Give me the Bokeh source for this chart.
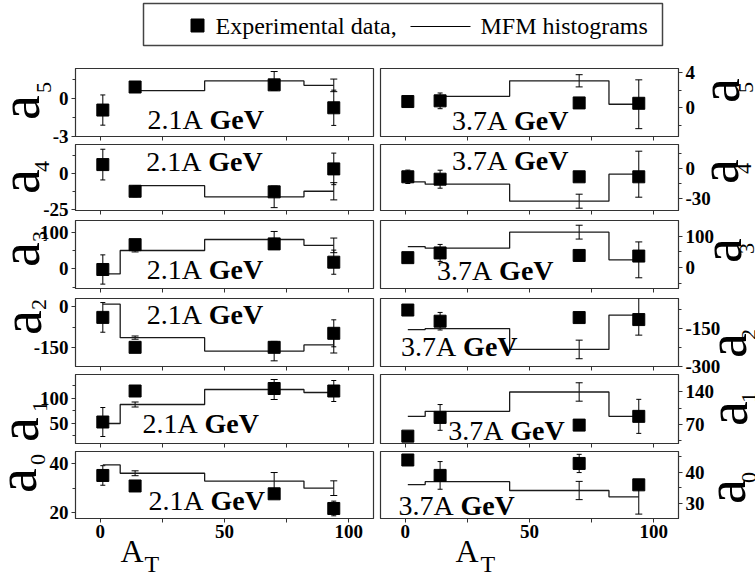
import math
from bokeh.plotting import figure
from bokeh.models import (Range1d, FixedTicker, Label, Whisker, ColumnDataSource,
                          TeeHead, GridBox)
from bokeh.layouts import column, row
from bokeh.embed import file_html
from bokeh.resources import INLINE
from bokeh.core.properties import value

nan = float("nan")

# ---------------- data ----------------
A_T = [1, 14, 70, 94]                 # target mass numbers of the experimental points
bins_full = [1, 8, 42, 82, 94]        # MFM histogram bin edges
bins_from14 = [14, 42, 82, 94]        # histogram drawn only from A_T = 14

# 2.1A GeV : experimental values / errors, MFM histogram values / errors
exp21_a5 = [-0.9, 0.93, 1.1, -0.72];   err21_a5 = [1.2, 0.15, 0.2, 1.4]
mfm21_a5 = [0.64, 1.41, 1.06];         mfmerr21_a5 = [nan, nan, 0.75, 0.5]
exp21_a4 = [6, -12.6, -13, 3];         err21_a4 = [10.7, 3.8, 2, 11]
mfm21_a4 = [-8.7, -16.5, -12.6];       mfmerr21_a4 = [nan, nan, 7.5, 6]
exp21_a3 = [-2, 66, 68, 18];           err21_a3 = [40, 12, 15, 33]
mfm21_a3 = [-14, 50, 80, 64];          mfmerr21_a3 = [nan, 4, 22, 20]
exp21_a2 = [-39, -150, -150, -98];     err21_a2 = [55, 6, 6, 50]
mfm21_a2 = [10, -114, -164, -141];     mfmerr21_a2 = [nan, 6, 36, 30]
exp21_a1 = [52, 114, 119, 114];        err21_a1 = [29, 11, 10, 21]
mfm21_a1 = [49, 87, 117, 111];         mfmerr21_a1 = [nan, 5, 20, nan]
exp21_a0 = [35.3, 31, 27.8, 21.8];     err21_a0 = [4, 1.8, 1.3, 3]
mfm21_a0 = [39.6, 36.2, 33, 30.1];     mfmerr21_a0 = [nan, 1, 3.5, 3]

# 3.7A GeV
exp37_a5 = [0.71, 0.79, 0.55, 0.51];   err37_a5 = [0.15, 0.9, 0.1, 0.15]
mfm37_a5 = [1.31, 3.09, 0.4];          mfmerr37_a5 = [nan, nan, 0.7, 2.8]
exp37_a4 = [-8.3, -10.7, -8.3, -8.3];  err37_a4 = [6.7, 9, 0, 0]
mfm37_a4 = [-13.3, -15.7, -32.7, -5.7]; mfmerr37_a4 = [nan, nan, 7, 23]
exp37_a3 = [32, 47, 39, 37];           err37_a3 = [0, 27, 0, 0]
mfm37_a3 = [67, 62, 113, 25];          mfmerr37_a3 = [nan, nan, 22, 57]
exp37_a2 = [-76, -120.5, -106, -114];  err37_a2 = [0, 35, 0, 0]
mfm37_a2 = [-154, -150, -233, -96];    mfmerr37_a2 = [nan, nan, 37, 80]
exp37_a1 = [44, 84.7, 68, 87];         err37_a1 = [0, 28, 7, 37]
mfm37_a1 = [87, 98, 140, 87];          mfmerr37_a1 = [nan, nan, 20, nan]
exp37_a0 = [43.9, 39, 42.8, 36];       err37_a0 = [0, 4.4, 2.9, 0]
mfm37_a0 = [36.1, 37, 34.2, 32.2];     mfmerr37_a0 = [nan, nan, 2.9, 5.5]

coeff_names = ["5", "4", "3", "2", "1", "0"]
energy_21 = "2.1A"
energy_37 = "3.7A"
x_ticks = [0, 50, 100]
x_minor = [25, 75]

# axis ranges / ticks per row (a5 ... a0)
yr21 = [(-3, 2.4), (-26, 20), (-54, 132), (-221, 31), (9, 147), (17.7, 45.1)]
yt21 = [[-3, 0], [-25, 0], [0, 100], [-150, 0], [50, 100], [20, 40]]
ym21 = [[-1.5, 1.5], [-12.5, 12.5], [-50, 50], [-75], [25, 75, 125], [30]]
yr37 = [(-3.3, 4.5), (-42, 24), (-66, 150), (-301, -30), (28, 178), (25.3, 46.6)]
yt37 = [[0, 4], [-30, 0], [0, 100], [-300, -150], [70, 140], [30, 40]]
ym37 = [[-2, 2], [-15, 15], [-50, 50], [-225, -75], [35, 105], [35, 45]]

# energy label placement (x in A_T units, y as fraction of panel height)
lab21_x = [19, 18.5, 18.7, 18.7, 17, 19.4]
lab21_f = [0.25, 0.74, 0.28, 0.76, 0.29, 0.27]
lab37_x = [18.8, 18.8, 12.8, -1.7, 17.3, -2.8]
lab37_f = [0.24, 0.76, 0.26, 0.30, 0.19, 0.20]

left_data = [
    (exp21_a5, err21_a5, mfm21_a5, mfmerr21_a5, bins_from14),
    (exp21_a4, err21_a4, mfm21_a4, mfmerr21_a4, bins_from14),
    (exp21_a3, err21_a3, mfm21_a3, mfmerr21_a3, bins_full),
    (exp21_a2, err21_a2, mfm21_a2, mfmerr21_a2, bins_full),
    (exp21_a1, err21_a1, mfm21_a1, mfmerr21_a1, bins_full),
    (exp21_a0, err21_a0, mfm21_a0, mfmerr21_a0, bins_full),
]
right_data = [
    (exp37_a5, err37_a5, mfm37_a5, mfmerr37_a5, bins_from14),
    (exp37_a4, err37_a4, mfm37_a4, mfmerr37_a4, bins_full),
    (exp37_a3, err37_a3, mfm37_a3, mfmerr37_a3, bins_full),
    (exp37_a2, err37_a2, mfm37_a2, mfmerr37_a2, bins_full),
    (exp37_a1, err37_a1, mfm37_a1, mfmerr37_a1, bins_full),
    (exp37_a0, err37_a0, mfm37_a0, mfmerr37_a0, bins_full),
]

# ---------------- layout constants (pixels) ----------------
W, H = 755, 581
LEG_H = 65
FRAME_TOP = [68, 144, 220, 298, 374, 451]
FRAME_H = [68, 66, 68, 68, 69, 67]
BOUND = [65, 143, 218, 296, 373, 450, 581]     # figure strip boundaries
L_FRAME_X0, R_FRAME_X0, FRAME_W = 75, 380, 298
SERIF = "Liberation Serif"
FRAME_COL = "#333333"

# y-axis name labels (a_n): text-box centre, page pixels from top-left
aL_x = [19, 19, 19, 21, 18, 16];        aL_y = [107, 181, 254, 322, 429, 480]
sL_x = [43, 41, 39, 38, 39, 37];        sL_y = [87, 166, 236, 304, 406, 459]
aR_x = [719, 718, 721, 726, 727, 725];  aR_y = [90, 171, 250, 345, 413, 491]
sR_x = [745, 743, 746, 748, 748, 748];  sR_y = [87, 168, 248, 334, 397, 477]


def bin_value(edges, vals, x):
    idx = 0
    for i, e in enumerate(edges[:-1]):
        if x >= e:
            idx = i
    return vals[min(idx, len(vals) - 1)]


def whiskers(p, xs, base, errs, head):
    xx, up, lo = [], [], []
    for x, b, e in zip(xs, base, errs):
        if e is None or (isinstance(e, float) and math.isnan(e)) or e <= 0:
            continue
        xx.append(x); up.append(b + e); lo.append(b - e)
    if not xx:
        return
    src = ColumnDataSource(dict(x=xx, upper=up, lower=lo))
    w = Whisker(base="x", upper="upper", lower="lower", source=src,
                dimension="height", line_color="black", line_width=1,
                upper_head=TeeHead(size=head, line_color="black", line_width=1),
                lower_head=TeeHead(size=head, line_color="black", line_width=1))
    p.add_layout(w)


def tick_text(v):
    return "%g" % v


def panel(r, side):
    left = side == 0
    exp, err, mfm, mfmerr, edges = (left_data if left else right_data)[r]
    yr = (yr21 if left else yr37)[r]
    yt = (yt21 if left else yt37)[r]
    ym = (ym21 if left else ym37)[r]
    lab_x = (lab21_x if left else lab37_x)[r]
    lab_f = (lab21_f if left else lab37_f)[r]
    energy = energy_21 if left else energy_37
    bottom = r == 5

    fig_h = BOUND[r + 1] - BOUND[r]
    top_b = FRAME_TOP[r] - BOUND[r]
    bot_b = fig_h - top_b - FRAME_H[r]
    fig_w = (L_FRAME_X0 + FRAME_W + 4) if left else (W - (L_FRAME_X0 + FRAME_W + 4))
    mb_left = L_FRAME_X0 if left else R_FRAME_X0 - (L_FRAME_X0 + FRAME_W + 4)
    mb_right = fig_w - mb_left - FRAME_W

    p = figure(width=fig_w, height=fig_h,
               x_range=Range1d(-10, 110), y_range=Range1d(*yr),
               y_axis_location="left" if left else "right",
               output_backend="svg", toolbar_location=None,
               min_border_left=mb_left, min_border_right=mb_right,
               min_border_top=top_b, min_border_bottom=bot_b)
    p.xgrid.visible = False
    p.ygrid.visible = False
    p.outline_line_color = FRAME_COL
    p.outline_line_width = 1.2
    p.background_fill_color = "white"
    p.border_fill_color = "white"

    xa = p.xaxis[0]
    xa.axis_line_color = FRAME_COL
    xa.major_tick_in = 0; xa.major_tick_out = 4
    xa.minor_tick_in = 0; xa.minor_tick_out = 4
    xa.major_tick_line_color = FRAME_COL
    xa.minor_tick_line_color = FRAME_COL
    if bottom:
        xa.ticker = FixedTicker(ticks=x_ticks, minor_ticks=x_minor)
        xa.major_label_text_font = SERIF
        xa.major_label_text_font_style = "bold"
        xa.major_label_text_font_size = "19px"
        xa.major_label_text_color = "black"
        xa.major_label_standoff = 2
    else:
        xa.ticker = FixedTicker(ticks=[], minor_ticks=x_ticks + x_minor)
        xa.major_label_standoff = 0

    ya = p.yaxis[0]
    ya.ticker = FixedTicker(ticks=yt, minor_ticks=ym)
    ya.major_label_overrides = {float(v): tick_text(v) for v in yt}
    ya.axis_line_color = FRAME_COL
    ya.major_tick_in = 0; ya.major_tick_out = 4
    ya.minor_tick_in = 0; ya.minor_tick_out = 3
    ya.major_tick_line_color = FRAME_COL
    ya.minor_tick_line_color = FRAME_COL
    ya.major_label_text_font = SERIF
    ya.major_label_text_font_style = "bold"
    ya.major_label_text_font_size = "19px"
    ya.major_label_text_color = "black"
    ya.major_label_standoff = 3

    # MFM histogram (step line)
    p.step(x=list(edges), y=list(mfm) + [mfm[-1]], mode="after",
           line_color="#1a1a1a", line_width=1.3)
    hx = [x for x in A_T if x >= edges[0]]
    hbase = [bin_value(edges, mfm, x) for x in hx]
    herr = [mfmerr[A_T.index(x)] for x in hx]
    whiskers(p, hx, hbase, herr, 7)

    # experimental points
    whiskers(p, A_T, exp, err, 5)
    p.scatter(A_T, exp, marker="square", size=12, color="black")

    # energy label: "2.1A " regular + "GeV" bold
    ylab = yr[0] + lab_f * (yr[1] - yr[0])
    p.add_layout(Label(x=lab_x, y=ylab, text=energy, text_font=SERIF,
                       text_font_size="28px", text_baseline="middle",
                       text_align="left", text_color="black"))
    p.add_layout(Label(x=lab_x, y=ylab, x_offset=62, text="GeV", text_font=SERIF,
                       text_font_size="28px", text_font_style="bold",
                       text_baseline="middle", text_align="left", text_color="black"))
    return p


# ---------------- legend strip ----------------
leg = figure(width=W, height=LEG_H, x_range=Range1d(0, W), y_range=Range1d(LEG_H, 0),
             output_backend="svg", toolbar_location=None,
             x_axis_location=None, y_axis_location=None, min_border=0)
leg.xgrid.visible = False
leg.ygrid.visible = False
leg.outline_line_color = None
leg.quad(left=[143], right=[662], top=[3], bottom=[45], fill_color=None,
         line_color="#444444", line_width=1.5)
leg.scatter([197], [25], marker="square", size=13, color="black")
leg.text(x=[215], y=[25], text=["Experimental data,"], text_font=value(SERIF),
         text_font_size="24px", text_baseline="middle", text_color="black")
leg.segment(x0=[410], y0=[26], x1=[470], y1=[26], line_color="black", line_width=1.2)
leg.text(x=[480], y=[25], text=["MFM histograms"], text_font=value(SERIF),
         text_font_size="24px", text_baseline="middle", text_color="black")

left_col = column([panel(r, 0) for r in range(6)], spacing=0)
right_col = column([panel(r, 1) for r in range(6)], spacing=0)
main = column(leg, row(left_col, right_col, spacing=0), spacing=0)

# ---------------- transparent overlay for axis names (outside the frames) ----------------
ov = figure(width=W, height=H, x_range=Range1d(0, W), y_range=Range1d(0, H),
            output_backend="svg", toolbar_location=None,
            x_axis_location=None, y_axis_location=None, min_border=0)
ov.xgrid.visible = False
ov.ygrid.visible = False
ov.outline_line_color = None
ov.background_fill_color = None
ov.border_fill_color = None


def flip(ys):
    return [H - y for y in ys]


a_text = ["a"] * 6
ov.text(x=aL_x + aR_x, y=flip(aL_y + aR_y), text=a_text + a_text, angle=math.pi / 2,
        text_font=value(SERIF), text_font_size="56px", text_align="center",
        text_baseline="middle", text_color="black")
ov.text(x=sL_x + sR_x, y=flip(sL_y + sR_y), text=coeff_names + coeff_names,
        angle=math.pi / 2, text_font=value(SERIF), text_font_size="22px",
        text_align="center", text_baseline="middle", text_color="black")
ov.text(x=[120, 455], y=flip([550, 550]), text=["A", "A"], text_font=value(SERIF),
        text_font_size="32px", text_align="left", text_baseline="middle",
        text_color="black")
ov.text(x=[144, 480], y=flip([563, 563]), text=["T", "T"], text_font=value(SERIF),
        text_font_size="24px", text_align="left", text_baseline="middle",
        text_color="black")

page = GridBox(children=[(main, 0, 0), (ov, 0, 0)])

open("out.html", "w").write(file_html(page, INLINE))
